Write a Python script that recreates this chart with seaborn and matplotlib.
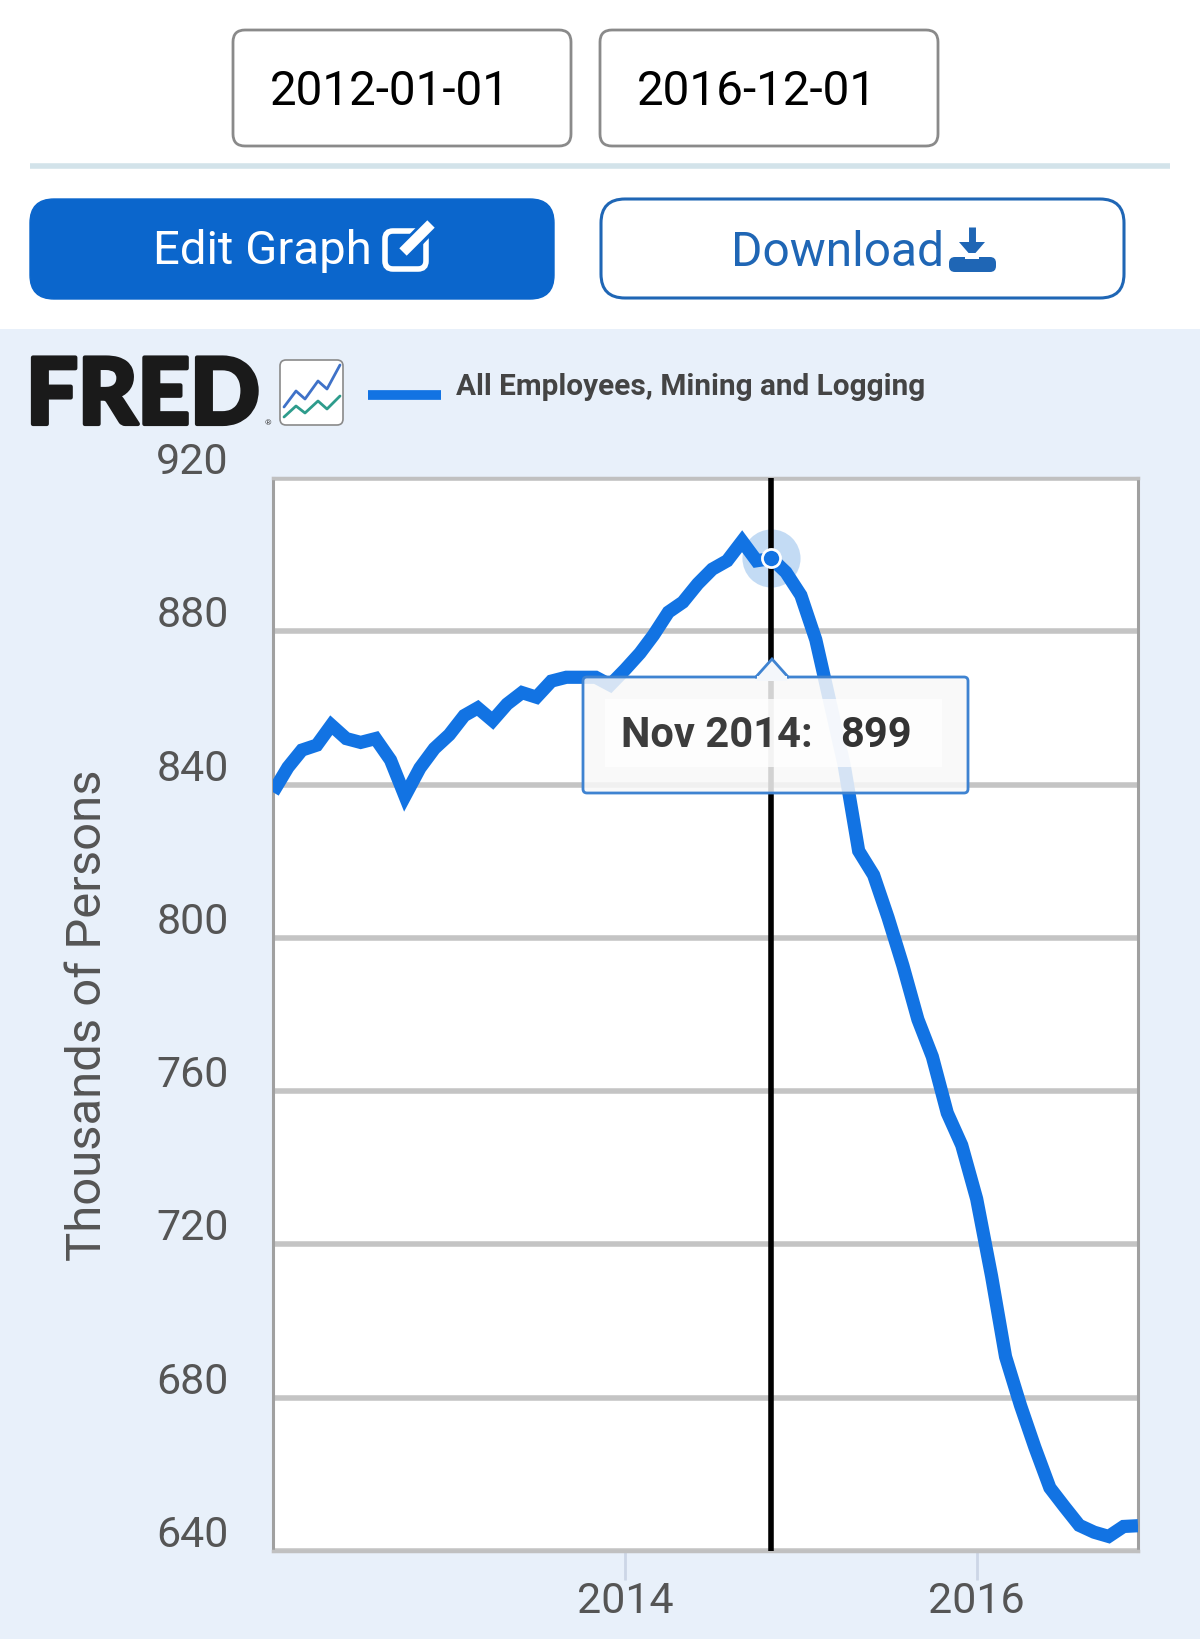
import pandas as pd
import matplotlib.pyplot as plt
import matplotlib.patheffects as pe
from matplotlib.patches import FancyBboxPatch, Rectangle, Polygon
from matplotlib.transforms import ScaledTranslation
import seaborn as sns

series_name = "All Employees, Mining and Logging"
y_label = "Thousands of Persons"
date_start = "2012-01-01"
date_end = "2016-12-01"

# monthly values, Jan 2012 to Dec 2016
employees = [
    838, 844.5, 849, 850.3, 855.5, 852, 851, 852, 846.4, 837, 844.3, 849.4,
    853, 858, 860, 856.7, 861, 864, 862.8, 867, 868, 868, 868, 866,
    870, 874.3, 879, 885, 887.6, 892.4, 896.2, 898.4, 903.5, 898.4, 899, 895.4,
    889.4, 877.8, 862.3, 845, 822.7, 816.4, 805.3, 792.7, 778.7, 769, 754.3, 745.9,
    731.9, 711.7, 690.7, 678, 667, 656.5, 651.6, 646.7, 644.9, 643.8, 646.4, 646.6,
]
y_ticks = [640, 680, 720, 760, 800, 840, 880, 920]
x_ticks = ["2014-01-01", "2016-01-01"]
x_tick_labels = ["2014", "2016"]
hover_month = "2014-11-01"
hover_label = "Nov 2014:"
hover_value = "899"

BLUE = "#1273E3"
BUTTON = "#0B66CC"
OUTLINE = "#1F66B5"
PANEL = "#E8F0FA"
TEXT = "#555555"

df = pd.DataFrame({
    "date": pd.date_range(date_start, date_end, freq="MS"),
    "value": employees,
})


def px_axes(fig, zorder):
    # full figure axes measured in pixels from the top left
    ax = fig.add_axes([0, 0, 1, 1], zorder=zorder)
    ax.set_xlim(0, 1200)
    ax.set_ylim(1640, 0)
    ax.axis("off")
    ax.patch.set_alpha(0)
    return ax


def box(ax, x0, y0, x1, y1, radius, fc, ec, lw, alpha=None):
    patch = FancyBboxPatch((x0 + radius, y0 + radius), x1 - x0 - 2 * radius, y1 - y0 - 2 * radius,
                           boxstyle=f"round,pad={radius}", fc=fc, ec=ec, lw=lw, alpha=alpha)
    ax.add_patch(patch)


def draw_header(ax):
    ax.add_patch(Rectangle((0, 330), 1200, 1310, fc=PANEL, ec="none"))

    box(ax, 233, 31, 571, 147, 12, "white", "#8A8A8A", 2)
    box(ax, 600, 31, 938, 147, 12, "white", "#8A8A8A", 2)
    ax.text(270, 92, date_start, fontsize=34.3, color="black", va="center")
    ax.text(637, 92, date_end, fontsize=34.3, color="black", va="center")
    ax.plot([30, 1170], [167, 167], color="#D3E3EA", lw=4, solid_capstyle="butt")

    box(ax, 30, 200, 554, 300, 24, BUTTON, BUTTON, 1)
    ax.text(153, 251, "Edit Graph", fontsize=34, color="white", va="center")
    box(ax, 385, 232, 426, 270, 8, "none", "white", 4)
    ax.plot([399, 434], [258, 222], color=BUTTON, lw=12, solid_capstyle="butt")
    ax.plot([403, 431], [253, 225], color="white", lw=7.5, solid_capstyle="butt")

    box(ax, 601, 200, 1124, 299, 24, "white", OUTLINE, 2.2)
    ax.text(731, 253, "Download", fontsize=34.5, color=OUTLINE, va="center")
    ax.plot([972, 972], [228, 250], color=OUTLINE, lw=5, solid_capstyle="butt")
    ax.add_patch(Polygon([[959, 243], [985, 243], [972, 258]], fc=OUTLINE, ec="none"))
    box(ax, 949, 258, 996, 273, 6, OUTLINE, "none", 0)
    ax.add_patch(Rectangle((965, 254), 14, 6, fc="white", ec="none"))

    fred = ax.text(26, 425, "FRED", fontsize=66, family="Lato", fontweight="black", color="#1A1A1A", va="baseline")
    fred.set_path_effects([pe.withStroke(linewidth=3, foreground="#1A1A1A")])
    ax.text(268, 425, "®", fontsize=6, color="#444444", ha="center", va="baseline")

    box(ax, 280, 361, 343, 426, 6, "white", "#8A8A8A", 1.2)
    ax.plot([284, 296, 305, 318, 327, 340], [408, 392, 400, 382, 390, 366], color="#3F72C8", lw=2)
    ax.plot([284, 296, 305, 318, 327, 340], [418, 407, 414, 402, 410, 397], color="#2E9C8C", lw=2)

    ax.plot([368, 441], [396, 396], color=BLUE, lw=7, solid_capstyle="butt")
    ax.text(456, 387, series_name, fontsize=21.4, fontweight="bold", color="#444444", va="center")


def draw_tooltip(ax, cx):
    # body with the small arrow pointing up at the hovered month
    left, right, top, bottom = 583, 968, 678, 794
    box(ax, left, top, right, bottom, 4, "#F8F8F8", "none", 0, alpha=0.85)
    box(ax, left, top, right, bottom, 4, "none", "#3F83D1", 2)
    ax.add_patch(Polygon([[cx - 17, top + 1], [cx, 660], [cx + 17, top + 1]], closed=False,
                         fc="#F4F7FB", ec="#3F83D1", lw=2))
    ax.add_patch(Rectangle((cx - 15, top - 1), 30, 5, fc="#F4F7FB", ec="none"))
    ax.add_patch(Rectangle((605, 700), 337, 68, fc="white", ec="none", alpha=0.75))
    ax.text(621, 736, hover_label, fontsize=30, fontweight="bold", color="#3C3C3C", va="center")
    ax.text(840, 736, hover_value, fontsize=30, fontweight="bold", color="#333333", va="center")


def draw_chart(ax, hovered):
    sns.lineplot(data=df, x="date", y="value", ax=ax, color=BLUE, linewidth=9.5, zorder=4,
                 solid_joinstyle="miter", solid_capstyle="butt")
    ax.set_xlim(df["date"].iloc[0], df["date"].iloc[-1])
    ax.set_ylim(y_ticks[0], y_ticks[-1])

    ax.set_yticks(y_ticks)
    ax.set_xticks(pd.to_datetime(x_ticks))
    ax.set_xticklabels(x_tick_labels)
    ax.grid(axis="y", color="#C4C4C4", lw=4)
    ax.grid(axis="x", visible=False)
    ax.set_axisbelow(True)

    ax.tick_params(axis="y", length=0, pad=32, labelsize=31, labelcolor=TEXT)
    ax.tick_params(axis="x", bottom=True, length=21, width=2, color="#CCD6E6", pad=0, labelsize=31, labelcolor=TEXT)

    # FRED puts the axis numbers above their grid lines
    shift = ScaledTranslation(0, 21 / 100, ax.figure.dpi_scale_trans)
    for label in ax.get_yticklabels():
        label.set_transform(label.get_transform() + shift)

    ax.set_xlabel("")
    ax.set_ylabel(y_label, fontsize=35.3, color=TEXT, labelpad=0)
    ax.yaxis.set_label_coords(-0.187, 0.5)

    for side in ["left", "right"]:
        ax.spines[side].set_color("#A0A0A0")
        ax.spines[side].set_linewidth(2.2)
    for side in ["top", "bottom"]:
        ax.spines[side].set_color("#C0C0C0")
        ax.spines[side].set_linewidth(2.5)

    ax.axvline(hovered["date"], color="black", lw=4, zorder=5)
    ax.scatter(hovered["date"], hovered["value"], s=1750, color="#B9D5F3", alpha=0.85, lw=0, zorder=3)
    ax.scatter(hovered["date"], hovered["value"], s=170, color=BLUE, edgecolor="white", lw=2, zorder=6)


sns.set_theme(style="white")
plt.rcParams["font.family"] = ["Roboto", "DejaVu Sans"]

fig = plt.figure(figsize=(12, 16.4), dpi=100, facecolor="white")
back = px_axes(fig, 0)
draw_header(back)

chart = fig.add_axes([273 / 1200, 1 - 1552 / 1640, 865 / 1200, 1073 / 1640], zorder=1)
hovered = df[df["date"] == hover_month].iloc[0]
draw_chart(chart, hovered)

front = px_axes(fig, 2)
draw_tooltip(front, 772)

fig.savefig("out.png", dpi=100)
